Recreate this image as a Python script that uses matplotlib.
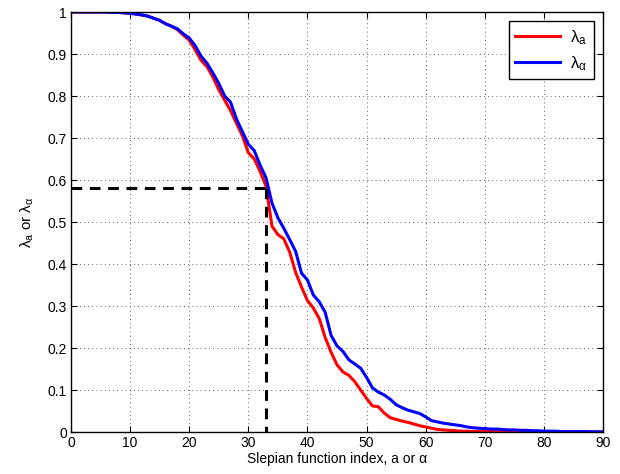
import numpy as np
import matplotlib
matplotlib.use("Agg")
import matplotlib.pyplot as plt

plt.rcParams['font.family'] = ['Liberation Sans', 'DejaVu Sans']
plt.rcParams['mathtext.fontset'] = 'custom'
plt.rcParams['mathtext.rm'] = 'Liberation Sans'
plt.rcParams['mathtext.it'] = 'Liberation Sans'

index = list(range(91))

lambda_alpha = [
    1.0, 1.0, 1.0, 1.0, 1.0, 1.0, 1.0, 0.999, 0.999, 0.998,
    0.997, 0.995, 0.993, 0.99, 0.985, 0.98, 0.972, 0.966, 0.96, 0.948,
    0.938, 0.92, 0.895, 0.878, 0.855, 0.83, 0.80, 0.785, 0.745, 0.715,
    0.685, 0.67, 0.635, 0.605, 0.545, 0.51, 0.485, 0.458, 0.43, 0.378,
    0.362, 0.326, 0.31, 0.285, 0.23, 0.205, 0.192, 0.172, 0.162, 0.152,
    0.13, 0.105, 0.095, 0.088, 0.078, 0.065, 0.058, 0.052, 0.048, 0.044,
    0.036, 0.027, 0.024, 0.021, 0.019, 0.017, 0.015, 0.012, 0.010, 0.009,
    0.008, 0.007, 0.007, 0.006, 0.005, 0.005, 0.004, 0.004, 0.003, 0.003,
    0.002, 0.002, 0.002, 0.001, 0.001, 0.001, 0.001, 0.001, 0.0005, 0.0005,
    0.0003,
]

lambda_a = [
    1.0, 1.0, 1.0, 1.0, 1.0, 1.0, 1.0, 0.999, 0.999, 0.998,
    0.997, 0.995, 0.993, 0.99, 0.985, 0.98, 0.972, 0.966, 0.958, 0.945,
    0.933, 0.91, 0.885, 0.87, 0.845, 0.815, 0.79, 0.765, 0.735, 0.705,
    0.665, 0.65, 0.62, 0.585, 0.49, 0.47, 0.46, 0.428, 0.38, 0.345,
    0.313, 0.295, 0.27, 0.225, 0.19, 0.16, 0.143, 0.135, 0.12, 0.10,
    0.08, 0.062, 0.06, 0.045, 0.034, 0.03, 0.026, 0.023, 0.019, 0.015,
    0.012, 0.009, 0.006, 0.005, 0.004, 0.003, 0.002, 0.002, 0.001, 0.001,
    0.001, 0.001, 0.0005, 0.0005, 0.0003, 0.0003, 0.0002, 0.0002, 0.0001, 0.0001,
    0.0, 0.0, 0.0, 0.0, 0.0, 0.0, 0.0, 0.0, 0.0, 0.0,
    0.0,
]

cut_index = 33
cut_value = 0.58

xticks = list(range(0, 91, 10))
yticks = [0, 0.1, 0.2, 0.3, 0.4, 0.5, 0.6, 0.7, 0.8, 0.9, 1]
ytick_labels = ['0', '0.1', '0.2', '0.3', '0.4', '0.5', '0.6', '0.7', '0.8', '0.9', '1']

fig = plt.figure(figsize=(6.2, 4.74), dpi=100)
ax = fig.add_axes([71/620, 1 - 432/474, (603-71)/620, (432-12)/474])

ax.plot(index, lambda_a, color='#ff0000', lw=2.2, label=r'$\lambda_{\mathrm{a}}$')
ax.plot(index, lambda_alpha, color='#0000ff', lw=2.2, label=r'$\lambda_{\alpha}$')
ax.plot([0, cut_index], [cut_value, cut_value], color='black', lw=2.2, ls=(0, (3.5, 2.5)))
ax.plot([cut_index, cut_index], [cut_value, 0], color='black', lw=2.2, ls=(0, (3.5, 2.5)))

ax.set_xlim(0, 90)
ax.set_ylim(0, 1)
ax.set_xticks(xticks)
ax.set_yticks(yticks)
ax.set_yticklabels(ytick_labels)
ax.tick_params(direction='in', top=True, right=True, labelsize=10, length=4, width=0.8, pad=3)
ax.grid(True, color='black', linestyle=(0, (1, 4)), linewidth=0.6, alpha=0.8)
for s in ax.spines.values():
    s.set_linewidth(1.0)

ax.set_xlabel('Slepian function index, a or α', fontsize=10, labelpad=1)
ax.set_ylabel(r'$\lambda_{\mathrm{a}}$ or $\lambda_{\alpha}$', fontsize=11, labelpad=8)

leg = ax.legend(loc='upper right', fontsize=12, fancybox=False, framealpha=1,
                edgecolor='black', handlelength=2.7, borderaxespad=0.55,
                labelspacing=0.45, handletextpad=0.6)
leg.get_frame().set_linewidth(1.0)

fig.savefig('out.png', dpi=100)
